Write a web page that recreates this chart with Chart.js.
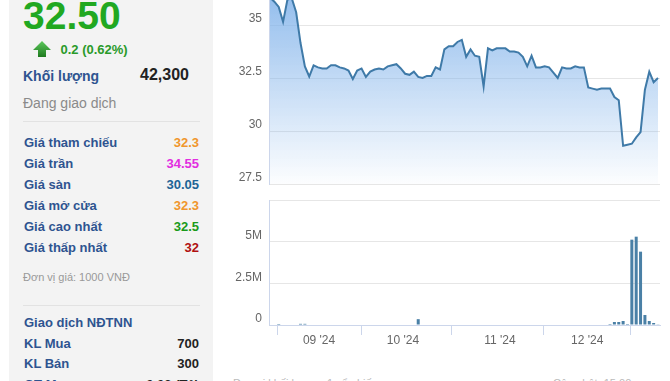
<!DOCTYPE html>
<html>
<head>
<meta charset="utf-8">
<script src="https://cdn.jsdelivr.net/npm/chart.js@4.4.1/dist/chart.umd.min.js"></script>
<style>
  html, body { margin:0; padding:0; background:#fff; }
  body { width:670px; height:381px; overflow:hidden; position:relative; font-family:"Liberation Sans", Arial, sans-serif; }
  #panel { position:absolute; left:9px; top:0; width:204px; height:381px; background:#f3f3f3; }
  .t { position:absolute; line-height:1; white-space:nowrap; }
  .lbl { font-size:13px; font-weight:bold; color:#2e5490; left:24px; }
  .val { font-size:13px; font-weight:bold; right:471px; text-align:right; }
  .sep { position:absolute; left:23px; width:177px; height:1px; background:#e2e2e2; }
  canvas { position:absolute; }
</style>
</head>
<body>
<div id="panel"></div>
<div class="t" style="left:23px; top:-3.7px; font-size:39px; font-weight:bold; color:#21a821;">32.50</div>
<svg style="position:absolute; left:0; top:0;" width="60" height="60">
  <defs><linearGradient id="ag" x1="0" y1="0" x2="0" y2="1"><stop offset="0" stop-color="#5cc85c"/><stop offset="1" stop-color="#1f7a1f"/></linearGradient></defs>
  <polygon points="33,50 42,41 51,50 46,50 46,57 38,57 38,50" fill="url(#ag)"/>
</svg>
<div class="t" style="left:60.5px; top:43.3px; font-size:13px; font-weight:bold; color:#2a9a2a;">0.2 (0.62%)</div>
<div class="t" style="left:23px; top:69.2px; font-size:14px; font-weight:bold; color:#2e5490;">Khối lượng</div>
<div class="t" style="right:481px; top:66.5px; font-size:16px; font-weight:bold; color:#222;">42,300</div>
<div class="t" style="left:23px; top:95.5px; font-size:14px; color:#8a8a8a;">Đang giao dịch</div>
<div class="sep" style="top:121px;"></div>

<div class="t lbl" style="top:135.7px;">Giá tham chiếu</div>
<div class="t val" style="top:135.7px; color:#f0962d;">32.3</div>
<div class="t lbl" style="top:156.7px;">Giá trần</div>
<div class="t val" style="top:156.7px; color:#e22ee0;">34.55</div>
<div class="t lbl" style="top:177.5px;">Giá sàn</div>
<div class="t val" style="top:177.5px; color:#1e6496;">30.05</div>
<div class="t lbl" style="top:198.5px;">Giá mở cửa</div>
<div class="t val" style="top:198.5px; color:#f0962d;">32.3</div>
<div class="t lbl" style="top:219.5px;">Giá cao nhất</div>
<div class="t val" style="top:219.5px; color:#1a9a1a;">32.5</div>
<div class="t lbl" style="top:240.5px;">Giá thấp nhất</div>
<div class="t val" style="top:240.5px; color:#b01010;">32</div>

<div class="t" style="left:23px; top:271.7px; font-size:11px; color:#999;">Đơn vị giá: 1000 VNĐ</div>
<div class="sep" style="top:305px;"></div>
<div class="t lbl" style="top:315.7px;">Giao dịch NĐTNN</div>
<div class="t lbl" style="top:336.7px;">KL Mua</div>
<div class="t val" style="top:336.7px; color:#222;">700</div>
<div class="t lbl" style="top:357.3px;">KL Bán</div>
<div class="t val" style="top:357.3px; color:#222;">300</div>
<div class="t lbl" style="top:378px;">GT Mua</div>
<div class="t val" style="top:378px; color:#222;">0.02 (Tỷ)</div>

<div class="t" style="left:233px; top:377.5px; font-size:11px; color:#bbb;">Đơn vị khối lượng: 1 cổ phiếu</div>
<div class="t" style="left:553px; top:377.5px; font-size:11px; color:#bbb;">Cập nhật: 15:00</div>

<canvas id="price" width="450" height="234" style="left:220px; top:-40px; width:450px; height:234px;"></canvas>
<canvas id="vol" width="450" height="160" style="left:220px; top:190px; width:450px; height:160px;"></canvas>

<script>
// ---- data ----
const prices = [
  36.3, 36.1, 35.85, 35.15, 36.2, 36.25, 35.6, 34.15, 33.05, 32.57,
  33.1, 33.0, 32.95, 32.95, 33.1, 33.1, 33.0, 32.95, 32.85, 32.45,
  32.85, 32.95, 32.55, 32.8, 32.9, 32.95, 32.9, 33.05, 33.1, 33.15,
  32.95, 32.7, 32.65, 32.8, 32.55, 32.5, 32.6, 32.6, 33.0, 32.9,
  33.85, 34.0, 34.0, 34.2, 34.3, 33.5, 33.85, 33.55, 33.5, 32.1,
  33.9, 33.8, 33.9, 33.9, 33.9, 33.75, 33.75, 33.7, 33.5, 33.05,
  33.55, 33.0, 33.0, 33.05, 33.0, 32.75, 32.5, 33.0, 32.95, 32.95,
  33.05, 33.0, 33.0, 32.05, 32.0, 31.95, 32.0, 32.0, 32.0, 31.6,
  31.45, 29.3, 29.35, 29.4, 29.7, 29.95, 31.95, 32.8, 32.3, 32.5
];
const volumes = [
  0, 0, 60000, 0, 0, 0, 0, 70000, 70000, 0,
  0, 0, 0, 0, 0, 0, 0, 0, 0, 0,
  0, 0, 0, 0, 0, 0, 0, 0, 0, 0,
  0, 0, 0, 0, 350000, 0, 0, 0, 0, 0,
  0, 0, 0, 0, 0, 0, 0, 0, 0, 0,
  0, 0, 0, 0, 0, 0, 0, 0, 0, 0,
  0, 0, 0, 0, 0, 0, 0, 0, 0, 0,
  0, 0, 0, 0, 0, 0, 0, 0, 60000, 180000,
  180000, 240000, 60000, 5120000, 5300000, 4400000, 600000, 240000, 120000, 42300
];
const monthTickPos = [11.25, 30.5, 52.75, 72.75];
const monthLabels = ["09 '24", "10 '24", "11 '24", "12 '24"];
const priceTicks = [27.5, 30, 32.5, 35, 37.5];
const volTicks = [0, 2500000, 5000000, 7500000];

// ---- charts ----
Chart.defaults.font.family = "'Liberation Sans', Arial, sans-serif";
Chart.defaults.font.size = 12;
Chart.defaults.color = '#666';
const X_MIN = -0.23, X_MAX = 89.46;
const axisLine = '#ccd6eb', gridCol = '#e6e6e6';
const fitY = (s) => { s.width = 49; s.paddingTop = 0; s.paddingBottom = 0; };

new Chart(document.getElementById('price'), {
  type: 'line',
  data: { datasets: [{
    data: prices.map((v, i) => ({ x: i, y: v })),
    borderColor: '#3f7aa8', borderWidth: 2, pointRadius: 0, tension: 0,
    fill: 'start',
    backgroundColor: (ctx) => {
      const a = ctx.chart.chartArea; if (!a) return 'rgba(0,0,0,0)';
      const g = ctx.chart.ctx.createLinearGradient(0, a.top, 0, a.bottom);
      g.addColorStop(0, 'rgba(128,178,234,0.95)');
      g.addColorStop(1, 'rgba(128,178,234,0.02)');
      return g;
    }
  }]},
  options: {
    responsive: false, devicePixelRatio: 1, animation: false,
    layout: { padding: { top: 12, bottom: 10, left: 0, right: 10 } },
    plugins: { legend: { display: false }, tooltip: { enabled: false } },
    scales: {
      x: { type: 'linear', display: false, min: X_MIN, max: X_MAX },
      y: {
        min: 27.5, max: 37.5,
        afterFit: fitY,
        afterBuildTicks: (s) => { s.ticks = priceTicks.map(v => ({ value: v })); },
        ticks: { padding: 7, labelOffset: -6, callback: (v) => String(v) },
        grid: { color: gridCol, drawTicks: false },
        border: { display: true, color: axisLine }
      }
    }
  }
});

new Chart(document.getElementById('vol'), {
  type: 'bar',
  data: { datasets: [{
    data: volumes.map((v, i) => ({ x: i, y: v })),
    backgroundColor: '#4a80a6', borderWidth: 0, barThickness: 3, inflateAmount: 0
  }]},
  options: {
    responsive: false, devicePixelRatio: 1, animation: false,
    layout: { padding: { top: 10, bottom: 0, left: 0, right: 10 } },
    plugins: { legend: { display: false }, tooltip: { enabled: false } },
    scales: {
      x: {
        type: 'linear', min: X_MIN, max: X_MAX, offset: false,
        afterFit: (s) => { s.height = 25; s.paddingLeft = 0; s.paddingRight = 0; },
        afterBuildTicks: (s) => { s.ticks = monthTickPos.map(v => ({ value: v })); },
        ticks: { autoSkip: false, maxRotation: 0, padding: -2,
          callback: (v) => { const k = monthTickPos.indexOf(v); return k >= 0 ? monthLabels[k] : ''; } },
        grid: { drawOnChartArea: false, drawTicks: true, tickLength: 10, color: axisLine },
        border: { display: true, color: axisLine }
      },
      y: {
        min: 0, max: 7500000,
        afterFit: fitY,
        afterBuildTicks: (s) => { s.ticks = volTicks.map(v => ({ value: v })); },
        ticks: { padding: 7, labelOffset: -6,
          callback: (v) => v === 0 ? '0' : (v >= 7500000 ? '' : (v / 1000000) + 'M') },
        grid: { color: gridCol, drawTicks: false },
        border: { display: true, color: axisLine }
      }
    }
  }
});
</script>
</body>
</html>
